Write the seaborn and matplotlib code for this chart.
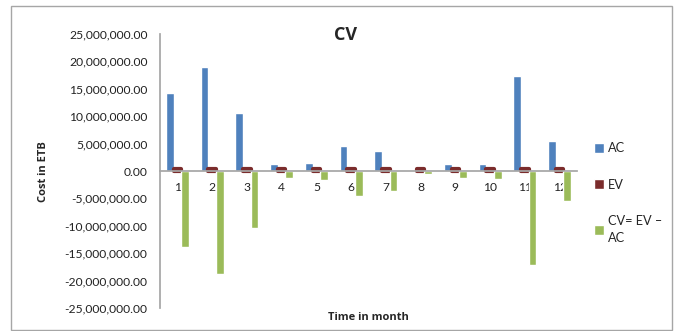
import matplotlib
matplotlib.use("Agg")
import matplotlib.pyplot as plt
import matplotlib.ticker as mticker
import pandas as pd
import seaborn as sns
from matplotlib.patches import Rectangle

months = [str(m) for m in range(1, 13)]
ac = [14150000, 19000000, 10500000, 1350000, 1500000, 4500000,
      3600000, 250000, 1200000, 1350000, 17300000, 5400000]
ev = [300000, 300000, 300000, 300000, 300000, 300000,
      300000, 300000, 300000, 300000, 300000, 300000]
cv = [-13850000, -18800000, -10400000, -1300000, -1600000, -4500000,
      -3600000, -500000, -1300000, -1500000, -17100000, -5400000]
series = ["AC", "EV", "CV= EV \u2013\nAC"]
colors = ["#4F81BD", "#7B2C2C", "#9BBB59"]


def build_frame():
    rows = []
    for name, vals in zip(series, [ac, ev, cv]):
        for m, v in zip(months, vals):
            rows.append({"month": m, "value": v, "series": name})
    return pd.DataFrame(rows)


sns.set_theme(style="white")
plt.rcParams["font.family"] = ["Lato", "DejaVu Sans"]
bold_family = ["Open Sans", "DejaVu Sans"]

df = build_frame()

fig = plt.figure(figsize=(6.78, 3.31), dpi=100)
ax = fig.add_axes([160 / 678, 23 / 331, 417 / 678, 274 / 331])

sns.barplot(ax=ax, data=df, x="month", y="value", hue="series",
            hue_order=series, palette=colors, width=0.66, saturation=1,
            order=months, errorbar=None)

# EV bars look like small rounded blobs at zero
for bar in ax.containers[1]:
    bar.set_edgecolor("#7B2C2C")
    bar.set_linewidth(3.0)
    bar.set_joinstyle("round")

ax.set_ylim(-25000000, 25000000)
ax.yaxis.set_major_locator(mticker.MultipleLocator(5000000))
ax.yaxis.set_major_formatter(mticker.FuncFormatter(lambda v, p: "{:,.2f}".format(v)))
ax.tick_params(axis="y", length=0, labelsize=8.7, colors="#222222", pad=9)
ax.tick_params(axis="x", length=0, labelsize=8.7, colors="#222222", pad=8)

for s in ["top", "right"]:
    ax.spines[s].set_visible(False)
ax.spines["bottom"].set_position(("data", 0))
ax.spines["bottom"].set_color("#A6A6A6")
ax.spines["left"].set_color("#A6A6A6")
ax.set_xlabel("")
ax.set_ylabel("")

handles, labels = ax.get_legend_handles_labels()
leg = ax.legend(handles, labels, loc="upper left", frameon=False,
                bbox_to_anchor=(582 / 678, 1 - 131 / 331),
                bbox_transform=fig.transFigure, fontsize=9.2,
                handlelength=0.8, handleheight=0.8, handletextpad=0.3,
                labelspacing=1.9)
for t in leg.get_texts():
    t.set_linespacing(1.5)

fig.text(346 / 678, 1 - 35 / 331, "CV", ha="center", va="center",
         fontsize=13, fontweight="bold", family=bold_family)
fig.text(368 / 678, 1 - 318 / 331, "Time in month", ha="center", va="center",
         fontsize=8, fontweight="bold", family=bold_family)
fig.text(44 / 678, 1 - 172 / 331, "Cost in ETB", ha="center", va="center",
         rotation=90, fontsize=8, fontweight="bold", family=bold_family)

fig.patches.append(Rectangle((11 / 678, 1 / 331), 661 / 678, 324 / 331,
                             transform=fig.transFigure, fill=False,
                             edgecolor="#A6A6A6", linewidth=1))

fig.savefig("out.png", dpi=100)
